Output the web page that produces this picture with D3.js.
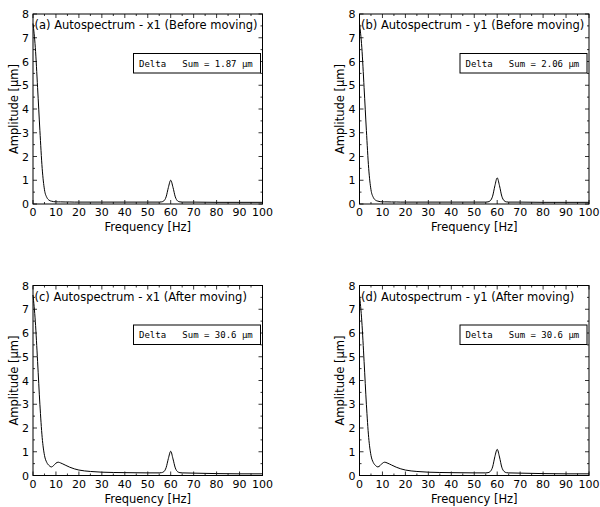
<!DOCTYPE html>
<html>
<head>
<meta charset="utf-8">
<script src="https://cdn.jsdelivr.net/npm/d3@7"></script>
<style>
  body { margin: 0; background: #fff; }
  svg { display: block; font-family: "DejaVu Sans", sans-serif; }
  .tick-label { font-size: 11px; fill: #000; }
  .axis-label { font-size: 11.5px; fill: #000; }
  .panel-title { font-size: 11.5px; fill: #000; }
  .note { font-family: "DejaVu Sans Mono", monospace; font-size: 9px; fill: #000; }
</style>
</head>
<body>
<div id="chart"></div>
<script>
// Autospectrum data
const freq = [0, 1, 2, 3, 4, 5, 6, 7, 8, 9, 10, 11, 12, 14, 16, 18, 20, 25, 30, 40, 50,
              55, 56, 57, 58, 59, 60, 61, 62, 63, 64, 65, 70, 80, 90, 100];

const ampX1Before = [7.6, 6.6, 4.9, 3.1, 1.5, 0.6, 0.28, 0.16, 0.12, 0.1, 0.09, 0.09, 0.09, 0.085, 0.085, 0.08, 0.08, 0.08, 0.08, 0.08, 0.08,
                     0.08, 0.09, 0.13, 0.3, 0.7, 1.0, 0.7, 0.3, 0.13, 0.09, 0.08, 0.08, 0.07, 0.07, 0.07];
const ampY1Before = [7.6, 6.6, 4.9, 3.1, 1.5, 0.6, 0.28, 0.16, 0.12, 0.1, 0.09, 0.09, 0.09, 0.085, 0.085, 0.08, 0.08, 0.08, 0.08, 0.08, 0.08,
                     0.08, 0.09, 0.14, 0.33, 0.77, 1.1, 0.77, 0.33, 0.14, 0.09, 0.08, 0.08, 0.07, 0.07, 0.07];
const ampX1After = [7.6, 6.5, 4.8, 3.0, 1.6, 0.85, 0.55, 0.42, 0.36, 0.42, 0.52, 0.56, 0.53, 0.44, 0.35, 0.28, 0.23, 0.17, 0.14, 0.12, 0.11,
                    0.11, 0.12, 0.16, 0.33, 0.72, 1.02, 0.7, 0.32, 0.16, 0.12, 0.11, 0.1, 0.08, 0.07, 0.07];
const ampY1After = [7.6, 6.5, 4.8, 3.0, 1.6, 0.85, 0.55, 0.42, 0.36, 0.42, 0.52, 0.56, 0.53, 0.44, 0.35, 0.28, 0.23, 0.17, 0.14, 0.12, 0.11,
                    0.11, 0.12, 0.17, 0.36, 0.8, 1.1, 0.78, 0.35, 0.17, 0.12, 0.11, 0.1, 0.08, 0.07, 0.07];

const titles = ["(a) Autospectrum - x1 (Before moving)", "(b) Autospectrum - y1 (Before moving)",
                "(c) Autospectrum - x1 (After moving)", "(d) Autospectrum - y1 (After moving)"];
const sums = ["1.87", "2.06", "30.6", "30.6"];
const series = [ampX1Before, ampY1Before, ampX1After, ampY1After];

const xMajor = d3.range(0, 101, 10);
const xMinor = d3.range(5, 100, 10);
const yMajor = d3.range(0, 9, 1);
const yMinor = d3.range(0.5, 8, 1);

const width = 600, height = 507;
const plotW = 229.5, plotH = 190;
// top-left corner of each axes box
const origins = [[33, 14], [359.5, 14], [33, 285.5], [359.5, 285.5]];

const svg = d3.select('#chart')
    .append('svg')
    .attr('width', width)
    .attr('height', height);

const x = d3.scaleLinear().domain([0, 100]).range([0, plotW]);
const y = d3.scaleLinear().domain([0, 8]).range([plotH, 0]);

const line = d3.line()
    .x((d, i) => x(freq[i]))
    .y(d => y(d))
    .curve(d3.curveMonotoneX);

series.forEach((amp, k) => {
    const [ox, oy] = origins[k];
    const g = svg.append('g').attr('transform', `translate(${ox},${oy})`);

    // spectrum line
    g.append('path')
        .datum(amp)
        .attr('d', line)
        .attr('fill', 'none')
        .attr('stroke', '#000')
        .attr('stroke-width', 1);

    // inward ticks on all four sides
    const ticks = g.append('g').attr('stroke', '#000').attr('stroke-width', 0.8);
    const xt = xMajor.map(v => [v, 4]).concat(xMinor.map(v => [v, 2]));
    const yt = yMajor.map(v => [v, 4]).concat(yMinor.map(v => [v, 2]));
    xt.forEach(([v, len]) => {
        ticks.append('line').attr('x1', x(v)).attr('x2', x(v)).attr('y1', plotH).attr('y2', plotH - len);
        ticks.append('line').attr('x1', x(v)).attr('x2', x(v)).attr('y1', 0).attr('y2', len);
    });
    yt.forEach(([v, len]) => {
        ticks.append('line').attr('x1', 0).attr('x2', len).attr('y1', y(v)).attr('y2', y(v));
        ticks.append('line').attr('x1', plotW).attr('x2', plotW - len).attr('y1', y(v)).attr('y2', y(v));
    });

    // frame
    g.append('rect')
        .attr('width', plotW)
        .attr('height', plotH)
        .attr('fill', 'none')
        .attr('stroke', '#000')
        .attr('stroke-width', 1);

    // tick labels
    g.selectAll('text.xl')
        .data(xMajor)
        .join('text')
        .attr('class', 'tick-label')
        .attr('x', d => x(d))
        .attr('y', plotH + 12)
        .attr('text-anchor', 'middle')
        .text(d => d);
    g.selectAll('text.yl')
        .data(yMajor)
        .join('text')
        .attr('class', 'tick-label')
        .attr('x', -4)
        .attr('y', d => y(d) + 4)
        .attr('text-anchor', 'end')
        .text(d => d);

    // axis labels
    g.append('text')
        .attr('class', 'axis-label')
        .attr('x', plotW / 2)
        .attr('y', plotH + 27)
        .attr('text-anchor', 'middle')
        .text('Frequency [Hz]');
    g.append('text')
        .attr('class', 'axis-label')
        .attr('transform', `translate(-15.5,${plotH / 2}) rotate(-90)`)
        .attr('text-anchor', 'middle')
        .text('Amplitude [µm]');

    // panel title inside the axes
    g.append('text')
        .attr('class', 'panel-title')
        .attr('x', 1.5)
        .attr('y', 15)
        .text(titles[k]);

    // annotation box
    const note = g.append('g').attr('transform', `translate(${plotW - 129},39.5)`);
    note.append('rect')
        .attr('width', 127)
        .attr('height', 19.5)
        .attr('fill', '#fff')
        .attr('stroke', '#000')
        .attr('stroke-width', 1);
    note.append('text')
        .attr('class', 'note')
        .attr('x', 5.5)
        .attr('y', 13)
        .attr('xml:space', 'preserve')
        .style('white-space', 'pre')
        .text(`Delta   Sum = ${sums[k]} µm`);
});
</script>
</body>
</html>
